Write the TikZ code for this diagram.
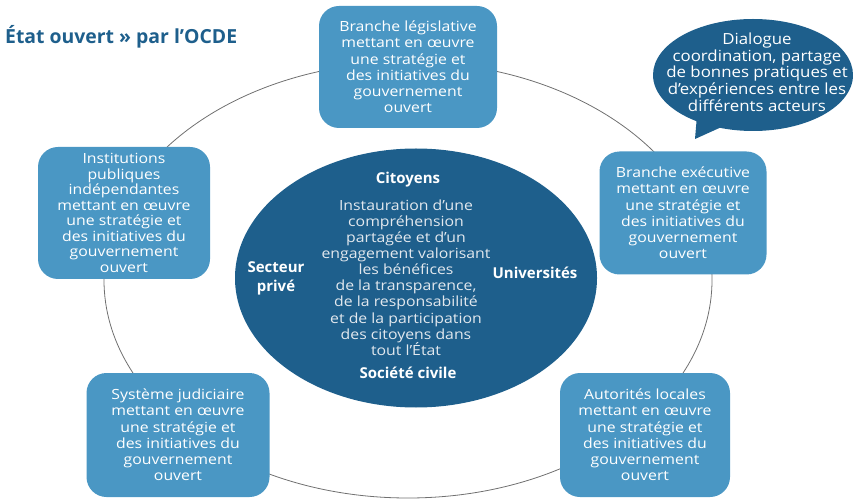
\documentclass[tikz,border=0pt]{standalone}
\usepackage{fontspec}
\setmainfont{Open Sans}
\newfontfamily\boxfont[FakeStretch=1.13]{Open Sans}
\newfontfamily\bubblefont[FakeStretch=1.1]{Open Sans}
\usetikzlibrary{shapes.geometric,shapes.callouts}
\definecolor{darkblue}{HTML}{1E5F8C}
\definecolor{lightblue}{HTML}{4A97C4}
\definecolor{ringgray}{HTML}{707070}
\definecolor{bodytext}{HTML}{E2E8EE}
\tikzset{
  box/.style={fill=lightblue, rounded corners=20pt, text=white, align=center,
    font={\boxfont\fontsize{14}{16.2}\selectfont\lineskiplimit=-20pt}, inner sep=0pt},
  lbl/.style={text=white, font=\bfseries\fontsize{15}{19}\selectfont, align=center},
}
\begin{document}
\begin{tikzpicture}[x=1pt,y=-1pt]
\useasboundingbox (0,0) rectangle (853,502);
% title
\node[anchor=west, text=darkblue, font=\bfseries\fontsize{19.4}{22}\selectfont, inner sep=0pt] (title) at (5,37) {État ouvert » par l’OCDE};
% ring
\draw[ringgray, line width=0.8pt] (408,280) ellipse [x radius=304pt, y radius=218pt];
% centre
\node[ellipse, fill=darkblue, minimum width=362pt, minimum height=259pt, inner sep=0pt] (centre) at (416,278) {};
\node[lbl] (cit) at (408,180) {Citoyens};
\node[lbl] (soc) at (408,373) {Société civile};
\node[lbl] (sec) at (276,278) {Secteur\\privé};
\node[lbl] (uni) at (535,273) {Universités};
\node[text=bodytext, align=center, font={\boxfont\fontsize{14}{16.1}\selectfont\lineskiplimit=-20pt}] (body) at (406,277.5)
 {Instauration d’une\\compréhension\\partagée et d’un\\engagement valorisant\\les bénéfices\\de la transparence,\\de la responsabilité\\et de la participation\\des citoyens dans\\tout l’État};
% boxes
\node[box, minimum width=178pt, minimum height=122pt] (leg) at (408,67)
 {Branche législative\\mettant en œuvre\\une stratégie et\\des initiatives du\\gouvernement\\ouvert};
\node[box, minimum width=172pt, minimum height=132pt, font={\boxfont\fontsize{14}{15.5}\selectfont\lineskiplimit=-20pt}] (inst) at (124,213)
 {Institutions\\publiques\\indépendantes\\mettant en œuvre\\une stratégie et\\des initiatives du\\gouvernement\\ouvert};
\node[box, minimum width=167pt, minimum height=123pt] (exe) at (683,213)
 {Branche exécutive\\mettant en œuvre\\une stratégie et\\des initiatives du\\gouvernement\\ouvert};
\node[box, minimum width=183pt, minimum height=124pt] (jud) at (178,435)
 {Système judiciaire\\mettant en œuvre\\une stratégie et\\des initiatives du\\gouvernement\\ouvert};
\node[box, minimum width=170pt, minimum height=124pt] (loc) at (645,435)
 {Autorités locales\\mettant en œuvre\\une stratégie et\\des initiatives du\\gouvernement\\ouvert};
% speech bubble
\coordinate (tip) at (695,139);
\node[ellipse callout, fill=darkblue, minimum width=200pt, minimum height=112pt, inner sep=0pt,
  callout absolute pointer={(tip)}] (bubble) at (753,75) {};
\node[text=white, align=center, font={\bubblefont\fontsize{15.3}{16.7}\selectfont\lineskiplimit=-20pt}] (bubbletext) at (757,72)
 {Dialogue\\coordination, partage\\de bonnes pratiques et\\d’expériences entre les\\différents acteurs};
\end{tikzpicture}
\end{document}
